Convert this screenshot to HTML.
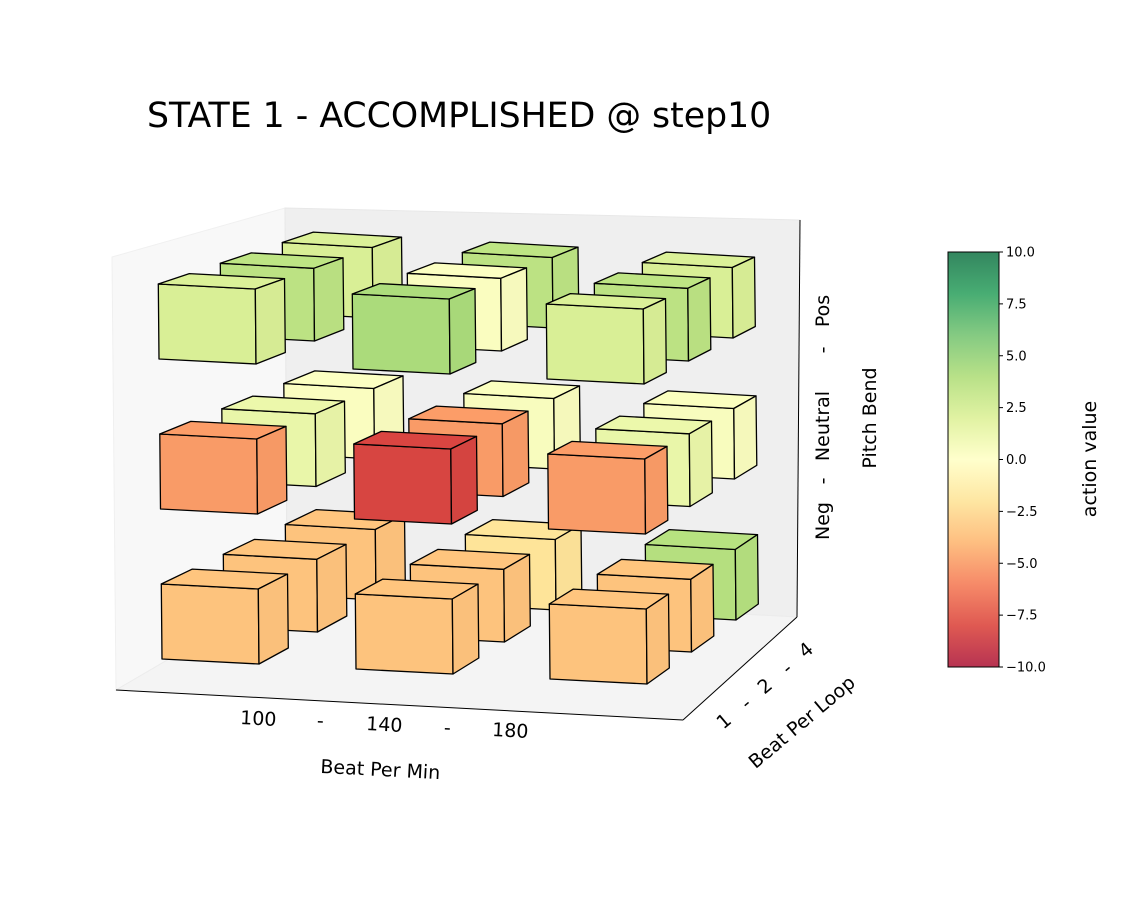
<!DOCTYPE html>
<html><head><meta charset="utf-8"><style>
body{margin:0;background:#fff;}
svg{display:block;font-family:"DejaVu Sans","Liberation Sans",sans-serif;}
</style></head><body>
<svg id="chart" width="1125" height="918" viewBox="0 0 1125 918" xmlns="http://www.w3.org/2000/svg">
<defs>
<linearGradient id="cbgrad" x1="0" y1="1" x2="0" y2="0">
<stop offset="0" stop-color="#a50026"/><stop offset="0.1" stop-color="#d73027"/><stop offset="0.2" stop-color="#f46d43"/><stop offset="0.3" stop-color="#fdae61"/><stop offset="0.4" stop-color="#fee08b"/><stop offset="0.5" stop-color="#ffffbf"/><stop offset="0.6" stop-color="#d9ef8b"/><stop offset="0.7" stop-color="#a6d96a"/><stop offset="0.8" stop-color="#66bd63"/><stop offset="0.9" stop-color="#1a9850"/><stop offset="1" stop-color="#006837"/>
</linearGradient>
</defs>
<text x="147" y="127" font-size="34.7" fill="#000">STATE 1 - ACCOMPLISHED @ step10</text>
<polygon points="112,257 285,208 287,590 116,690" fill="#f8f8f8" stroke="#f0f0f0" stroke-width="1"/>
<polygon points="285,208 800,220 797,617 287,590" fill="#efefef" stroke="#e8e8e8" stroke-width="1"/>
<polygon points="116,690 683,720 797,617 287,590" fill="#f4f4f4" stroke="#ececec" stroke-width="1"/>
<line x1="116" y1="690" x2="683" y2="720" stroke="#000" stroke-width="1"/>
<line x1="683" y1="720" x2="797" y2="617" stroke="#000" stroke-width="1"/>
<line x1="800" y1="220" x2="797" y2="617" stroke="#000" stroke-width="1"/>
<g id="cubes"></g>
<g font-size="19" fill="#000">
<text transform="translate(258,725) rotate(3)" text-anchor="middle">100</text>
<text transform="translate(320,727) rotate(3)" text-anchor="middle">-</text>
<text transform="translate(384,731) rotate(3)" text-anchor="middle">140</text>
<text transform="translate(447,734) rotate(3)" text-anchor="middle">-</text>
<text transform="translate(510,737) rotate(3)" text-anchor="middle">180</text>
</g>
<text transform="translate(380,776) rotate(3)" text-anchor="middle" font-size="19">Beat Per Min</text>
<g font-size="19">
<text transform="translate(728,726) rotate(-40)" text-anchor="middle">1</text>
<text transform="translate(750,708) rotate(-40)" text-anchor="middle">-</text>
<text transform="translate(769,691) rotate(-40)" text-anchor="middle">2</text>
<text transform="translate(791,673) rotate(-40)" text-anchor="middle">-</text>
<text transform="translate(810,655) rotate(-40)" text-anchor="middle">4</text>
</g>
<text transform="translate(806,727) rotate(-40)" text-anchor="middle" font-size="19">Beat Per Loop</text>
<g font-size="19">
<text transform="translate(829,521) rotate(-90)" text-anchor="middle">Neg</text>
<text transform="translate(829,481) rotate(-90)" text-anchor="middle">-</text>
<text transform="translate(829,426) rotate(-90)" text-anchor="middle">Neutral</text>
<text transform="translate(829,350) rotate(-90)" text-anchor="middle">-</text>
<text transform="translate(829,311) rotate(-90)" text-anchor="middle">Pos</text>
</g>
<text transform="translate(876,418) rotate(-90)" text-anchor="middle" font-size="19">Pitch Bend</text>
<rect x="948" y="252" width="51" height="415" fill="url(#cbgrad)" fill-opacity="0.8" stroke="#000" stroke-width="1"/>
<g id="cbticks" font-size="13"></g>
<text transform="translate(1096,459) rotate(-90)" text-anchor="middle" font-size="19">action value</text>
</svg>
<script>
// data: values[k][j][i]  k = pitch bend (Neg,Neutral,Pos), j = beat per loop (1,2,4), i = BPM (100,140,180)
const bpmCats = ['100','140','180'];
const loopCats = ['1','2','4'];
const pitchCats = ['Neg','Neutral','Pos'];
const negRow = [[-3.5,-3.5,-3.5],[-3.5,-3.5,-3.5],[-3.5,-2,3.8]];
const neutralRow = [[-5,-8.2,-5],[1.3,-5,1.3],[0.3,0.4,0.4]];
const posRow = [[2.2,4.2,2.2],[3.5,0.3,3.5],[2.2,3.5,2.2]];
const values = [negRow, neutralRow, posRow];
const cbTicks = [10,7.5,5,2.5,0,-2.5,-5,-7.5,-10];

const stops = ['#a50026','#d73027','#f46d43','#fdae61','#fee08b','#ffffbf','#d9ef8b','#a6d96a','#66bd63','#1a9850','#006837'];
function hex(c){return [parseInt(c.substr(1,2),16),parseInt(c.substr(3,2),16),parseInt(c.substr(5,2),16)];}
function cmap(v,shade){
  let t=Math.max(0,Math.min(1,(v+10)/20))*10;
  let a=Math.min(9,Math.floor(t)),f=t-a;
  let c1=hex(stops[a]),c2=hex(stops[a+1]);
  let c=c1.map((x,n)=>x+(c2[n]-x)*f);
  c=c.map(x=>(x*0.88+255*0.12)*shade);
  return 'rgb('+c.map(x=>Math.round(Math.min(255,x))).join(',')+')';
}
function P(x,y,z){
  const sx=162+194*x+(62-7*x)*y-1.5*z;
  const sy=659+10*x+(-32+4.5*z)*y-150*z;
  return [sx,sy];
}
const NS='http://www.w3.org/2000/svg';
const g=document.getElementById('cubes');
function poly(pts,fill,stroke,sw,name){
  const p=document.createElementNS(NS,'polygon');
  p.setAttribute('points',pts.map(q=>q[0].toFixed(1)+','+q[1].toFixed(1)).join(' '));
  p.setAttribute('fill',fill);p.setAttribute('stroke',stroke);p.setAttribute('stroke-width',sw);
  p.setAttribute('stroke-linejoin','round');
  
  
  g.appendChild(p);
}
function line(a,b,col,name){
  const l=document.createElementNS(NS,'line');
  l.setAttribute('x1',a[0]);l.setAttribute('y1',a[1]);l.setAttribute('x2',b[0]);l.setAttribute('y2',b[1]);
  l.setAttribute('stroke',col);l.setAttribute('stroke-width','1');
  
  
  g.appendChild(l);
}
const s=0.5;
for(let j=2;j>=0;j--){
  for(let k=0;k<3;k++){
    for(let i=0;i<3;i++){
      const v=values[k][j][i];
      const x0=i,x1=i+s,y0=j,y1=j+s,z0=k,z1=k+s;
      const A=P(x0,y0,z0),B=P(x1,y0,z0),C=P(x1,y0,z1),D=P(x0,y0,z1);
      const E=P(x0,y1,z0),F=P(x1,y1,z0),G=P(x1,y1,z1),H=P(x0,y1,z1);
      const base='cube-'+pitchCats[k].toLowerCase()+'-loop'+loopCats[j]+'-bpm'+bpmCats[i];
      poly([E,F,G,H],cmap(v,0.99),'none',0,base+'-back');
      const hc='rgba(120,90,60,0.3)';
      line(E,F,hc,base+'-hidden-edge');
      line(E,H,hc,base+'-hidden-edge');
      line(E,A,hc,base+'-hidden-edge');
      poly([A,B,C,D],cmap(v,1.0),'#000',1.3,base+'-front');
      poly([D,C,G,H],cmap(v,1.01),'#000',1.3,base+'-top');
      poly([B,F,G,C],cmap(v,0.985),'#000',1.3,base+'-side');
    }
  }
}
const tg=document.getElementById('cbticks');
cbTicks.forEach(t=>{
  const y=252+(10-t)/20*415;
  const l=document.createElementNS(NS,'line');
  l.setAttribute('x1',999);l.setAttribute('x2',1003);l.setAttribute('y1',y);l.setAttribute('y2',y);
  l.setAttribute('stroke','#000');
  
  
  tg.appendChild(l);
  const tx=document.createElementNS(NS,'text');
  tx.setAttribute('x',1006);tx.setAttribute('y',y+4.5);
  tx.textContent=(t<0?'\u2212':'')+Math.abs(t).toFixed(1);
  
  
  tg.appendChild(tx);
});
</script>
</body></html>
